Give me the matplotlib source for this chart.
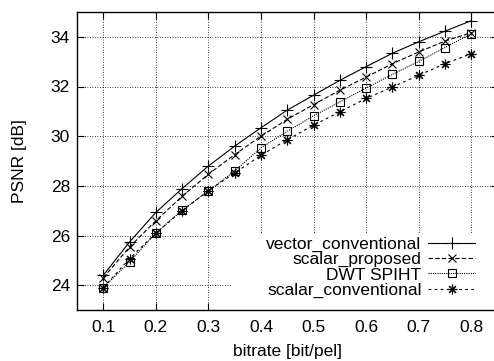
import matplotlib
matplotlib.use("Agg")
import matplotlib.pyplot as plt
from matplotlib.patches import Rectangle

# bitrate [bit/pel]
bitrate = [0.10, 0.15, 0.20, 0.25, 0.30, 0.35, 0.40, 0.45, 0.50, 0.55, 0.60, 0.65, 0.70, 0.75, 0.80]

# PSNR [dB]
vector_conventional = [24.40, 25.74, 26.93, 27.89, 28.80, 29.60, 30.34, 31.05, 31.65, 32.25, 32.80, 33.34, 33.80, 34.23, 34.65]
scalar_proposed     = [24.30, 25.54, 26.59, 27.58, 28.47, 29.26, 30.00, 30.68, 31.27, 31.85, 32.38, 32.92, 33.39, 33.83, 34.17]
dwt_spiht           = [23.90, 24.94, 26.10, 27.02, 27.80, 28.60, 29.53, 30.20, 30.82, 31.38, 31.94, 32.49, 33.01, 33.57, 34.13]
scalar_conventional = [23.90, 25.07, 26.10, 27.00, 27.80, 28.52, 29.23, 29.86, 30.44, 30.98, 31.52, 31.98, 32.45, 32.92, 33.32]

xticks = [0.1, 0.2, 0.3, 0.4, 0.5, 0.6, 0.7, 0.8]
yticks = [24, 26, 28, 30, 32, 34]

plt.rcParams["font.family"] = ["Liberation Sans", "DejaVu Sans"]
plt.rcParams["font.size"] = 12.5

fig = plt.figure(figsize=(4.94, 3.61), dpi=100)
# right border of the box falls just outside the picture, like the original
ax = fig.add_axes([77 / 494, 51 / 361, 420.6 / 494, 298 / 361])

lw = 0.8
ax.plot(bitrate, vector_conventional, color="black", lw=lw, ls="-",
        marker="+", ms=8, mew=0.8, label="vector_conventional")
ax.plot(bitrate, scalar_proposed, color="black", lw=lw, ls=(0, (4, 2)),
        marker="x", ms=6, mew=0.8, label="scalar_proposed")
ax.plot(bitrate, dwt_spiht, color="black", lw=lw, ls=(0, (1, 1)),
        marker="s", ms=5.5, mew=0.8, fillstyle="none", label="DWT SPIHT")
ax.plot(bitrate, scalar_conventional, color="black", lw=lw, ls=(0, (2.5, 3)),
        marker=(8, 2, 0), ms=7, mew=0.8, label="scalar_conventional")

ax.set_xlim(0.05, 0.85)
ax.set_ylim(23, 35)
ax.set_xticks(xticks)
ax.set_xticklabels([f"{t:.1f}" for t in xticks])
ax.set_yticks(yticks)

ax.tick_params(direction="in", length=5, width=0.8, top=True, right=True)
ax.tick_params(axis="x", pad=7)
ax.tick_params(axis="y", pad=5)
for s in ax.spines.values():
    s.set_linewidth(1.0)

ax.grid(True, color="black", ls=(0, (1, 2)), lw=0.6)
ax.set_axisbelow(True)

# gnuplot-style key area blanks the grid behind it
ax.add_patch(Rectangle((0.3685, 0.0), 0.64, 0.258, transform=ax.transAxes,
                       facecolor="white", edgecolor="none", zorder=1))

ax.set_xlabel("bitrate [bit/pel]", labelpad=7)
ax.set_ylabel("PSNR [dB]", labelpad=17)

leg = ax.legend(loc="lower right", markerfirst=False, frameon=True,
                handlelength=2.7, labelspacing=0.0, borderpad=0.2,
                handletextpad=0.4, bbox_to_anchor=(0.976, 0.0))
leg.get_frame().set_edgecolor("none")
leg.get_frame().set_facecolor("white")
leg.get_frame().set_alpha(1.0)
for t in leg.get_texts():
    t.set_ha("right")

fig.savefig("out.png", dpi=100)
